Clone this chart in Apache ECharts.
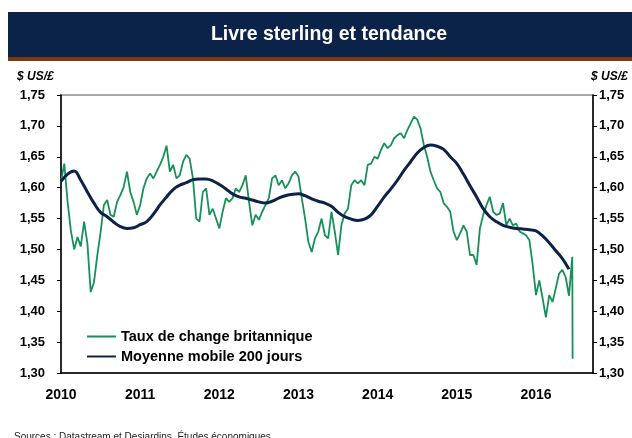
<!DOCTYPE html>
<html>
<head>
<meta charset="utf-8">
<script src="https://cdn.jsdelivr.net/npm/echarts@6/dist/echarts.min.js"></script>
<style>
  html, body { margin: 0; padding: 0; background: #fff; }
  #chart { width: 632px; height: 438px; }
</style>
</head>
<body>
<div id="chart"></div>
<script>
// half-monthly GBP/USD readings from Jan 2010
const startYear = 2010;
const rateValues = [
  1.610, 1.639, 1.577, 1.530, 1.500, 1.520, 1.505, 1.545, 1.510, 1.431, 1.447, 1.490,
  1.528, 1.572, 1.580, 1.556, 1.553, 1.577, 1.588, 1.601, 1.626, 1.593, 1.577, 1.556,
  1.572, 1.599, 1.615, 1.623, 1.615, 1.626, 1.637, 1.650, 1.668, 1.626, 1.637, 1.615,
  1.620, 1.642, 1.653, 1.647, 1.615, 1.550, 1.545, 1.593, 1.599, 1.556, 1.566, 1.550,
  1.534, 1.561, 1.583, 1.577, 1.583, 1.599, 1.593, 1.604, 1.620, 1.577, 1.539, 1.556,
  1.548, 1.561, 1.572, 1.583, 1.615, 1.620, 1.604, 1.612, 1.599, 1.607, 1.620, 1.626,
  1.618, 1.583, 1.550, 1.512, 1.496, 1.518, 1.529, 1.550, 1.523, 1.518, 1.561, 1.529,
  1.491, 1.539, 1.558, 1.566, 1.604, 1.612, 1.607, 1.612, 1.604, 1.637, 1.639, 1.650,
  1.647, 1.661, 1.672, 1.664, 1.669, 1.680, 1.685, 1.688, 1.680, 1.693, 1.704, 1.715,
  1.710, 1.696, 1.669, 1.650, 1.626, 1.612, 1.599, 1.593, 1.575, 1.569, 1.561, 1.529,
  1.515, 1.526, 1.539, 1.529, 1.491, 1.491, 1.475, 1.534, 1.556, 1.572, 1.585, 1.561,
  1.556, 1.558, 1.575, 1.539, 1.550, 1.539, 1.542, 1.529, 1.526, 1.523, 1.515, 1.475,
  1.426, 1.450, 1.421, 1.390, 1.426, 1.415, 1.437, 1.461, 1.467, 1.455, 1.425, 1.488
];
const brexitLow = 1.323;

// monthly 200-day moving average from Jan 2010
const maValues = [
  1.610, 1.622, 1.627, 1.612, 1.593, 1.575, 1.560, 1.553, 1.544, 1.537, 1.534, 1.535,
  1.540, 1.545, 1.557, 1.572, 1.585, 1.597, 1.604, 1.608, 1.613, 1.614, 1.614, 1.611,
  1.605, 1.598, 1.590, 1.585, 1.583, 1.580, 1.577, 1.575, 1.578, 1.583, 1.587, 1.589,
  1.590, 1.587, 1.582, 1.578, 1.575, 1.570, 1.560, 1.553, 1.549, 1.547, 1.549, 1.556,
  1.570, 1.585, 1.598, 1.612, 1.628, 1.642, 1.656, 1.665, 1.669, 1.667, 1.662, 1.650,
  1.639, 1.622, 1.603, 1.585, 1.566, 1.553, 1.545, 1.539, 1.536, 1.534, 1.533, 1.532,
  1.530, 1.522, 1.511, 1.498, 1.485, 1.468
];

const seriesNames = ['Taux de change britannique', 'Moyenne mobile 200 jours'];
const yearLabels = [2010, 2011, 2012, 2013, 2014, 2015, 2016];

const rateData = rateValues.map((v, i) => [startYear + i / 24, v]);
rateData.push([startYear + (rateValues.length - 1) / 24 + 0.004, brexitLow]);
const maData = maValues.map((v, i) => [startYear + i / 12, v]);

const font = '"Liberation Sans", Arial, sans-serif';
const green = '#16915a';
const navy = '#0c2248';

const yAxisBase = {
  type: 'value',
  min: 1.3,
  max: 1.75,
  interval: 0.05,
  splitLine: { show: false },
  axisLine: { show: true, lineStyle: { color: '#000', width: 1.5 } },
  axisTick: { show: true, inside: false, length: 4, lineStyle: { color: '#000' } },
  axisLabel: {
    color: '#000',
    fontFamily: font,
    fontWeight: 'bold',
    fontSize: 13,
    formatter: v => v.toFixed(2).replace('.', ',')
  }
};

const chart = echarts.init(document.getElementById('chart'));
chart.setOption({
  animation: false,
  grid: {
    left: 61, right: 39, top: 95, bottom: 65,
    show: true, borderColor: '#8c8c8c', borderWidth: 1.5
  },
  graphic: [
    { type: 'rect', left: 8, top: 12, shape: { width: 624, height: 45 }, style: { fill: '#0c2349' } },
    { type: 'rect', left: 8, top: 57, shape: { width: 624, height: 4 }, style: { fill: '#7a3a0e' } },
    {
      type: 'text', x: 329, y: 35,
      style: {
        text: 'Livre sterling et tendance', fill: '#fff', font: 'bold 19.5px ' + font,
        textAlign: 'center', textVerticalAlign: 'middle'
      }
    },
    {
      type: 'text', x: 17, y: 77,
      style: { text: '$ US/£', fill: '#000', font: 'italic bold 12px ' + font, textVerticalAlign: 'middle' }
    },
    {
      type: 'text', x: 591, y: 77,
      style: { text: '$ US/£', fill: '#000', font: 'italic bold 12px ' + font, textVerticalAlign: 'middle' }
    },
    {
      type: 'text', x: 14, y: 432,
      style: {
        text: 'Sources : Datastream et Desjardins, Études économiques', fill: '#222',
        font: '10px ' + font, textVerticalAlign: 'top'
      }
    }
  ],
  legend: {
    data: seriesNames,
    orient: 'vertical',
    left: 87,
    top: 329,
    padding: 0,
    icon: 'rect',
    itemWidth: 29,
    itemHeight: 2,
    itemGap: 5,
    textStyle: { color: '#000', fontFamily: font, fontWeight: 'bold', fontSize: 14.5 }
  },
  xAxis: {
    type: 'value',
    min: 2010,
    max: 2016.72,
    interval: 1,
    splitLine: { show: false },
    axisLine: { show: true, lineStyle: { color: '#000', width: 1.5 } },
    axisTick: { show: false },
    axisLabel: {
      color: '#000',
      fontFamily: font,
      fontWeight: 'bold',
      fontSize: 14,
      margin: 15,
      showMaxLabel: false,
      formatter: v => (yearLabels.includes(Math.round(v)) ? String(Math.round(v)) : '')
    }
  },
  yAxis: [
    Object.assign({ position: 'left' }, yAxisBase, { axisLabel: Object.assign({}, yAxisBase.axisLabel, { margin: 16 }) }),
    Object.assign({ position: 'right' }, yAxisBase, { axisLabel: Object.assign({}, yAxisBase.axisLabel, { margin: 6 }) })
  ],
  series: [
    {
      name: seriesNames[0],
      type: 'line',
      data: rateData,
      showSymbol: false,
      color: green,
      lineStyle: { color: green, width: 1.8 }
    },
    {
      name: seriesNames[1],
      type: 'line',
      data: maData,
      showSymbol: false,
      smooth: 0.4,
      color: navy,
      lineStyle: { color: navy, width: 3 }
    }
  ]
});
</script>
</body>
</html>
